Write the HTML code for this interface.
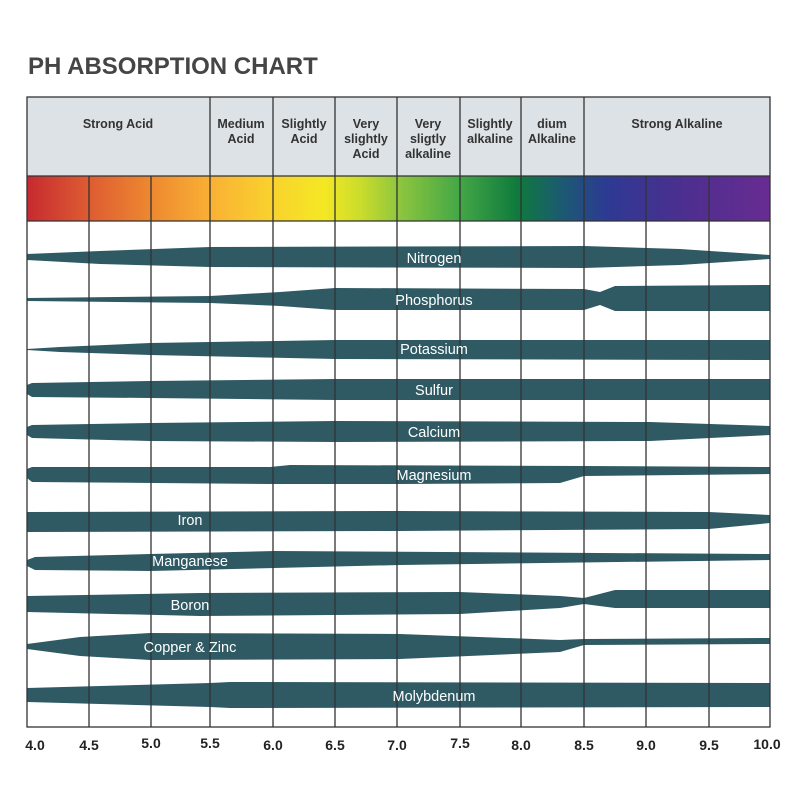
<!DOCTYPE html>
<html><head><meta charset="utf-8"><style>
body{margin:0;background:#fff;}
svg{display:block;font-family:"Liberation Sans",sans-serif;}
</style></head><body>
<svg width="800" height="800" viewBox="0 0 800 800">
<defs>
<linearGradient id="g" x1="27" x2="770" y1="0" y2="0" gradientUnits="userSpaceOnUse">
<stop offset="0" stop-color="#c62a30"/>
<stop offset="0.08" stop-color="#dd5a32"/>
<stop offset="0.17" stop-color="#ee8a30"/>
<stop offset="0.25" stop-color="#f9b234"/>
<stop offset="0.33" stop-color="#f9d22e"/>
<stop offset="0.4" stop-color="#f4e824"/>
<stop offset="0.45" stop-color="#c9dc2c"/>
<stop offset="0.5" stop-color="#8fc63e"/>
<stop offset="0.58" stop-color="#45a846"/>
<stop offset="0.66" stop-color="#0f7a3d"/>
<stop offset="0.72" stop-color="#1b5a72"/>
<stop offset="0.78" stop-color="#2d3a93"/>
<stop offset="0.88" stop-color="#4b2f8f"/>
<stop offset="1" stop-color="#682c92"/>
</linearGradient>
</defs>
<text x="28" y="74" font-size="24" font-weight="bold" fill="#454545">PH ABSORPTION CHART</text>
<rect x="27" y="97" width="743" height="79" fill="#dde2e6"/>
<rect x="27" y="176" width="743" height="45" fill="url(#g)"/>
<g fill="#2f5a64">
<polygon points="27,254 100,251 210,247 584,246 680,249 770,255 770,259 680,265 584,268 210,267 100,264 27,260"/>
<polygon points="27,298 210,296 280,292 335,288 584,289 600,292 615,286 770,285 770,311 615,311 600,305 584,310 335,310 280,306 210,303 27,301"/>
<polygon points="27,349 60,347 150,343 335,340 770,340 770,360 335,359 150,355 60,352 27,350"/>
<polygon points="27,385 32,383 150,381 335,379 770,379 770,400 335,400 150,398 32,397 27,394"/>
<polygon points="27,427 32,425 150,423 335,421 650,422 770,426 770,435 650,441 335,442 150,441 32,438 27,435"/>
<polygon points="27,469 32,467 270,467 290,465 584,466 770,467 770,474 584,476 560,483 400,484 270,484 32,482 27,478"/>
<polygon points="27,512 400,511 709,512 770,515 770,523 709,529 400,531 27,532"/>
<polygon points="27,560 35,557 150,554 275,551 770,554 770,560 400,565 150,571 35,570 27,566"/>
<polygon points="27,596 200,593 460,592 560,596 584,598 615,590 770,590 770,608 615,608 584,604 560,608 460,614 200,616 27,612"/>
<polygon points="27,644 80,637 150,633 400,634 560,640 584,639 770,638 770,644 584,645 560,652 400,659 150,660 80,656 27,649"/>
<polygon points="27,688 210,683 230,682 770,683 770,707 230,708 210,707 27,702"/>
</g>
<g stroke="#333" stroke-width="1.3" fill="none">
<rect x="27" y="97" width="743" height="630"/>
<line x1="27" y1="176" x2="770" y2="176"/>
<line x1="27" y1="221" x2="770" y2="221"/>
<path d="M89 176V727M151 176V727M210 97V727M273 97V727M335 97V727M397 97V727M460 97V727M521 97V727M584 97V727M646 176V727M709 176V727"/>
</g>
<g font-size="12.5" font-weight="bold" fill="#333" text-anchor="middle">
<text x="118" y="128">Strong Acid</text>
<text x="241" y="128">Medium</text><text x="241" y="143">Acid</text>
<text x="304" y="128">Slightly</text><text x="304" y="143">Acid</text>
<text x="366" y="128">Very</text><text x="366" y="143">slightly</text><text x="366" y="158">Acid</text>
<text x="428" y="128">Very</text><text x="428" y="143">sligtly</text><text x="428" y="158">alkaline</text>
<text x="490" y="128">Slightly</text><text x="490" y="143">alkaline</text>
<text x="552" y="128">dium</text><text x="552" y="143">Alkaline</text>
<text x="677" y="128">Strong Alkaline</text>
</g>
<g font-size="14.5" fill="#fff" text-anchor="middle">
<text x="434" y="263">Nitrogen</text>
<text x="434" y="305">Phosphorus</text>
<text x="434" y="354">Potassium</text>
<text x="434" y="395">Sulfur</text>
<text x="434" y="437">Calcium</text>
<text x="434" y="480">Magnesium</text>
<text x="190" y="525">Iron</text>
<text x="190" y="566">Manganese</text>
<text x="190" y="610">Boron</text>
<text x="190" y="652">Copper &amp; Zinc</text>
<text x="434" y="701">Molybdenum</text>
</g>
<g font-size="14" font-weight="bold" fill="#222" text-anchor="middle">
<text x="35" y="750">4.0</text><text x="89" y="750">4.5</text><text x="151" y="748">5.0</text>
<text x="210" y="748">5.5</text><text x="273" y="750">6.0</text><text x="335" y="750">6.5</text>
<text x="397" y="750">7.0</text><text x="460" y="748">7.5</text><text x="521" y="750">8.0</text>
<text x="584" y="750">8.5</text><text x="646" y="750">9.0</text><text x="709" y="750">9.5</text>
<text x="767" y="749">10.0</text>
</g>
</svg>
</body></html>
